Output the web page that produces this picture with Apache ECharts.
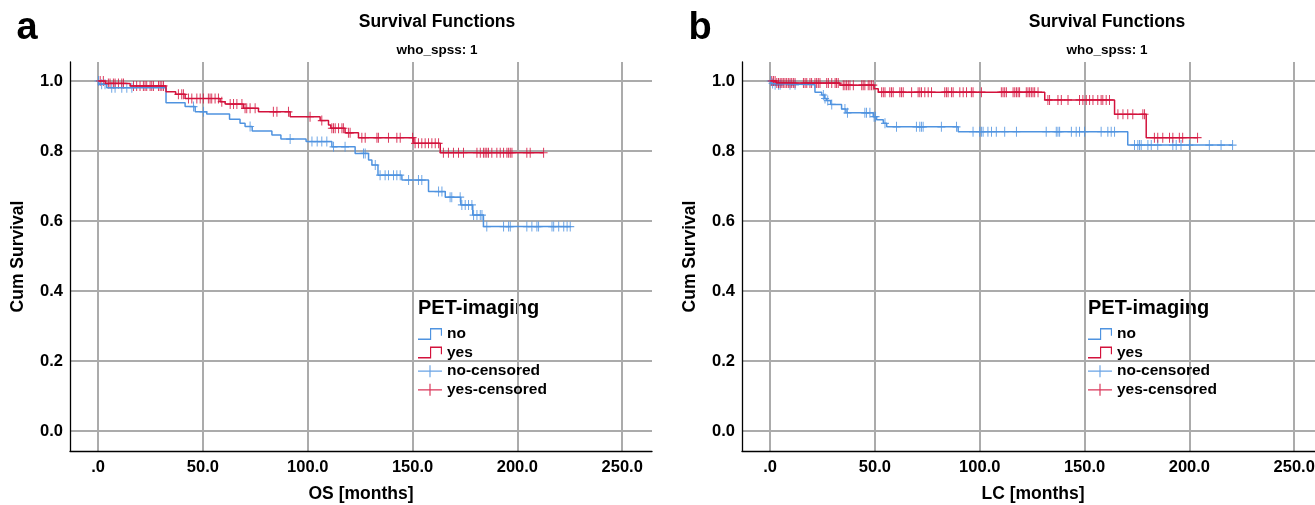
<!DOCTYPE html>
<html>
<head>
<meta charset="utf-8">
<script src="https://cdn.jsdelivr.net/npm/echarts@6/dist/echarts.min.js"></script>
<style>
html,body{margin:0;padding:0;background:#fff;}
#chart{width:1315px;height:505px;}
</style>
</head>
<body>
<div id="chart"></div>
<script>
// ---------- tick marks ----------
const xTicks = [0, 50, 100, 150, 200, 250];
const xTickLabels = ['.0', '50.0', '100.0', '150.0', '200.0', '250.0'];
const yTicks = [0, 0.2, 0.4, 0.6, 0.8, 1.0];
const yTickLabels = ['0.0', '0.2', '0.4', '0.6', '0.8', '1.0'];
const legendNames = ['no', 'yes', 'no-censored', 'yes-censored'];

// ---------- panel a : OS ----------
const osNoEventTimes = [0.6, 4.1, 32.4, 41.5, 46.3, 51.8, 62.7, 67.7, 70.1, 73.5, 82.9, 87.2, 99.2, 111.5, 122.6, 129.0, 130.6, 133.5, 144.9, 157.6, 165.6, 173.0, 178.7, 183.8];
const osNoSurv = [0.991, 0.981, 0.938, 0.927, 0.912, 0.906, 0.891, 0.879, 0.870, 0.857, 0.846, 0.834, 0.827, 0.812, 0.793, 0.774, 0.760, 0.731, 0.717, 0.684, 0.668, 0.646, 0.617, 0.584];
const osNoCensored = [0.2, 1.7, 3.3, 6.5, 8.1, 11.3, 13.7, 16.1, 45.5, 50.3, 72.5, 91.6, 102.0, 104.5, 106.7, 109.1, 112.3, 117.8, 126.6, 127.4, 132.2, 134.5, 136.9, 138.5, 140.9, 142.5, 144.1, 148.1, 152.8, 154.4, 162.4, 164.0, 167.9, 168.7, 172.7, 173.5, 175.1, 176.7, 178.3, 179.1, 180.7, 182.3, 183.1, 185.4, 193.4, 195.8, 196.6, 204.5, 206.9, 209.3, 210.1, 216.5, 217.3, 219.7, 222.1, 223.7, 225.2];

const osYesEventTimes = [3.5, 15.3, 32.4, 37.0, 41.5, 58.2, 60.6, 69.3, 76.5, 91.6, 105.9, 109.9, 111.0, 117.8, 124.2, 150.6, 163.2];
const osYesSurv = [0.993, 0.986, 0.969, 0.962, 0.950, 0.941, 0.934, 0.922, 0.912, 0.898, 0.887, 0.874, 0.865, 0.852, 0.838, 0.822, 0.795];
const osYesCensored = [1.0, 2.5, 4.9, 5.7, 7.3, 8.1, 9.7, 11.3, 12.1, 16.9, 18.4, 20.0, 21.6, 22.4, 23.2, 24.8, 25.6, 26.4, 28.8, 29.6, 30.4, 31.2, 38.3, 39.9, 40.7, 43.1, 44.7, 47.1, 48.7, 50.2, 52.6, 53.4, 54.2, 55.8, 57.4, 59.0, 63.0, 64.6, 66.2, 68.6, 70.1, 70.9, 72.5, 74.9, 83.6, 85.3, 90.8, 101.1, 106.7, 111.5, 112.3, 113.1, 114.7, 116.3, 117.0, 119.4, 120.2, 125.8, 127.4, 133.0, 133.7, 138.5, 142.5, 144.1, 150.0, 151.2, 152.8, 154.4, 156.0, 157.6, 159.2, 160.8, 162.4, 164.7, 167.1, 169.5, 171.9, 174.3, 180.7, 182.3, 183.8, 184.6, 185.4, 186.2, 187.8, 190.2, 191.8, 193.4, 195.0, 195.8, 196.6, 197.4, 204.5, 206.1, 212.5];

// ---------- panel b : LC ----------
const lcNoEventTimes = [0.8, 1.6, 21.4, 24.6, 26.0, 27.0, 28.9, 34.1, 36.2, 49.2, 50.8, 54.0, 55.6, 89.7, 170.6];
const lcNoSurv = [0.993, 0.989, 0.968, 0.960, 0.950, 0.944, 0.933, 0.920, 0.909, 0.898, 0.889, 0.879, 0.869, 0.855, 0.817];
const lcNoCensored = [0.3, 1.2, 2.4, 4.0, 4.8, 9.5, 11.9, 25.4, 26.2, 27.5, 29.4, 35.7, 36.9, 45.2, 46.0, 47.6, 49.6, 50.3, 54.8, 60.3, 69.8, 71.4, 72.2, 73.0, 81.7, 88.9, 96.8, 100.0, 100.8, 101.6, 103.9, 105.6, 107.9, 111.9, 117.5, 131.7, 136.5, 137.3, 138.1, 143.7, 146.0, 147.6, 150.0, 157.9, 161.1, 162.7, 164.3, 173.8, 175.4, 176.2, 177.0, 180.2, 181.8, 184.9, 192.1, 193.7, 196.0, 200.0, 209.5, 215.1, 220.6];

const lcYesEventTimes = [3.0, 33.3, 49.6, 51.6, 131.0, 164.3, 179.4];
const lcYesSurv = [0.994, 0.988, 0.978, 0.968, 0.946, 0.905, 0.838];
const lcYesCensored = [0.8, 1.6, 2.4, 3.2, 4.0, 4.8, 5.6, 6.3, 7.1, 7.9, 8.7, 9.5, 10.3, 11.1, 11.9, 15.9, 16.7, 17.5, 19.0, 19.8, 21.4, 22.2, 23.0, 23.8, 27.0, 27.8, 29.4, 31.0, 31.7, 32.5, 34.9, 35.7, 36.5, 37.3, 38.1, 39.7, 43.7, 44.4, 45.2, 46.8, 47.6, 48.4, 49.2, 53.2, 54.0, 54.8, 57.1, 57.9, 58.7, 61.9, 62.7, 63.5, 67.5, 70.6, 71.4, 72.2, 73.8, 75.4, 77.0, 83.3, 84.1, 84.9, 86.5, 87.3, 90.5, 92.1, 93.7, 96.0, 96.8, 100.8, 110.3, 111.1, 111.9, 112.7, 115.9, 116.7, 117.5, 118.3, 119.0, 122.2, 123.0, 123.8, 124.6, 125.4, 126.2, 127.8, 132.5, 133.3, 137.3, 138.9, 142.1, 147.6, 149.2, 150.8, 152.4, 154.0, 156.3, 157.9, 158.7, 160.3, 161.9, 165.9, 168.3, 170.6, 173.0, 177.8, 178.6, 183.3, 184.9, 187.3, 190.5, 192.1, 195.2, 196.8, 203.9];

// ---------- helpers ----------
const FONT = '"Liberation Sans", Arial, Helvetica, sans-serif';
const BLUE = '#4f93e0';
const RED = '#d3123c';

function survAt(times, surv, t) {
  let s = 1;
  for (let i = 0; i < times.length; i++) if (times[i] <= t) s = surv[i];
  return s;
}
function stepData(times, surv, cens) {
  const pts = [[0, 1]];
  times.forEach((t, i) => pts.push([t, surv[i]]));
  const end = Math.max(times[times.length - 1], cens[cens.length - 1]);
  pts.push([end, surv[surv.length - 1]]);
  return pts;
}
function censData(times, surv, cens) {
  return cens.map(t => [t, survAt(times, surv, t)]);
}
function nearestLabel(ticks, labels, v) {
  let best = 0;
  ticks.forEach((t, i) => { if (Math.abs(t - v) < Math.abs(ticks[best] - v)) best = i; });
  return labels[best];
}

const plusPath = 'path://M4.4,0H5.6V4.4H10V5.6H5.6V10H4.4V5.6H0V4.4H4.4Z';
const stepIcon = 'path://M0,8.8H12.4V0.4H24.8V6.5H23.6V1.6H13.6V10H0Z';
const plusIcon = 'path://M0,5.4H11.9V0H13.1V5.4H25V6.6H13.1V12H11.9V6.6H0Z';

function xAxisCfg(gi, name) {
  return {
    type: 'value', gridIndex: gi, min: -13.4, max: 264.2,
    name: name, nameLocation: 'middle', nameGap: 34,
    nameTextStyle: { fontFamily: FONT, fontWeight: 'bold', fontSize: 17.5, color: '#000' },
    axisLine: { show: true, onZero: false, lineStyle: { color: '#000', width: 1.3 } },
    axisTick: { show: false, customValues: xTicks },
    axisLabel: {
      customValues: xTicks, margin: 8, color: '#000', fontFamily: FONT, fontWeight: 'bold', fontSize: 16.5,
      formatter: v => nearestLabel(xTicks, xTickLabels, v)
    },
    splitLine: { show: true, lineStyle: { color: '#ababab', width: 2 } }
  };
}
function yAxisCfg(gi) {
  return {
    type: 'value', gridIndex: gi, min: -0.0571, max: 1.0543,
    name: 'Cum Survival', nameLocation: 'middle', nameGap: 43,
    nameTextStyle: { fontFamily: FONT, fontWeight: 'bold', fontSize: 17.5, color: '#000' },
    axisLine: { show: true, onZero: false, lineStyle: { color: '#000', width: 1.3 } },
    axisTick: { show: false, customValues: yTicks },
    axisLabel: {
      customValues: yTicks, margin: 7, color: '#000', fontFamily: FONT, fontWeight: 'bold', fontSize: 16.5,
      formatter: v => nearestLabel(yTicks, yTickLabels, v)
    },
    splitLine: { show: true, lineStyle: { color: '#ababab', width: 2 } }
  };
}
function lineSeries(name, gi, times, surv, cens, color) {
  return {
    name: name, type: 'line', xAxisIndex: gi, yAxisIndex: gi, step: 'end',
    data: stepData(times, surv, cens), showSymbol: false, symbol: 'none',
    color: color, lineStyle: { color: color, width: 1.5 }, itemStyle: { color: color },
    animation: false, silent: true
  };
}
function censSeries(name, gi, times, surv, cens, color) {
  return {
    name: name, type: 'scatter', xAxisIndex: gi, yAxisIndex: gi,
    data: censData(times, surv, cens), symbol: plusPath, symbolSize: [8, 10],
    color: color, itemStyle: { color: color, opacity: 0.85 },
    animation: false, silent: true
  };
}
function legendCfg(left) {
  return {
    left: left, top: 326, padding: 0, orient: 'vertical', itemWidth: 24, itemHeight: 12, itemGap: 2.6,
    symbolKeepAspect: false, selectedMode: false,
    itemStyle: { borderWidth: 0 },
    textStyle: { fontFamily: FONT, fontWeight: 'bold', fontSize: 15.5, color: '#000' },
    data: [
      { name: legendNames[0], icon: stepIcon },
      { name: legendNames[1], icon: stepIcon },
      { name: legendNames[2], icon: plusIcon },
      { name: legendNames[3], icon: plusIcon }
    ]
  };
}
function txt(x, y, text, size, align) {
  return { type: 'text', x: x, y: y, silent: true,
    style: { text: text, font: 'bold ' + size + 'px ' + FONT, fill: '#000', textAlign: align || 'center', textVerticalAlign: 'middle' } };
}

const chart = echarts.init(document.getElementById('chart'), null, { renderer: 'canvas' });
chart.setOption({
  animation: false,
  backgroundColor: '#fff',
  grid: [
    { left: 70, top: 62, width: 582, height: 389, containLabel: false, outerBoundsMode: 'none' },
    { left: 742, top: 62, width: 582, height: 389, containLabel: false, outerBoundsMode: 'none' }
  ],
  xAxis: [xAxisCfg(0, 'OS [months]'), xAxisCfg(1, 'LC [months]')],
  yAxis: [yAxisCfg(0), yAxisCfg(1)],
  legend: [legendCfg(418), legendCfg(1088)],
  series: [
    lineSeries(legendNames[0], 0, osNoEventTimes, osNoSurv, osNoCensored, BLUE),
    lineSeries(legendNames[1], 0, osYesEventTimes, osYesSurv, osYesCensored, RED),
    censSeries(legendNames[2], 0, osNoEventTimes, osNoSurv, osNoCensored, BLUE),
    censSeries(legendNames[3], 0, osYesEventTimes, osYesSurv, osYesCensored, RED),
    lineSeries(legendNames[0], 1, lcNoEventTimes, lcNoSurv, lcNoCensored, BLUE),
    lineSeries(legendNames[1], 1, lcYesEventTimes, lcYesSurv, lcYesCensored, RED),
    censSeries(legendNames[2], 1, lcNoEventTimes, lcNoSurv, lcNoCensored, BLUE),
    censSeries(legendNames[3], 1, lcYesEventTimes, lcYesSurv, lcYesCensored, RED)
  ],
  graphic: [
    txt(27, 29, 'a', 38),
    txt(700, 29, 'b', 38),
    txt(437, 22, 'Survival Functions', 17.5),
    txt(1107, 22, 'Survival Functions', 17.5),
    txt(437, 50, 'who_spss: 1', 13.5),
    txt(1107, 50, 'who_spss: 1', 13.5),
    txt(418, 308, 'PET-imaging', 20, 'left'),
    txt(1088, 308, 'PET-imaging', 20, 'left')
  ]
});
</script>
</body>
</html>
